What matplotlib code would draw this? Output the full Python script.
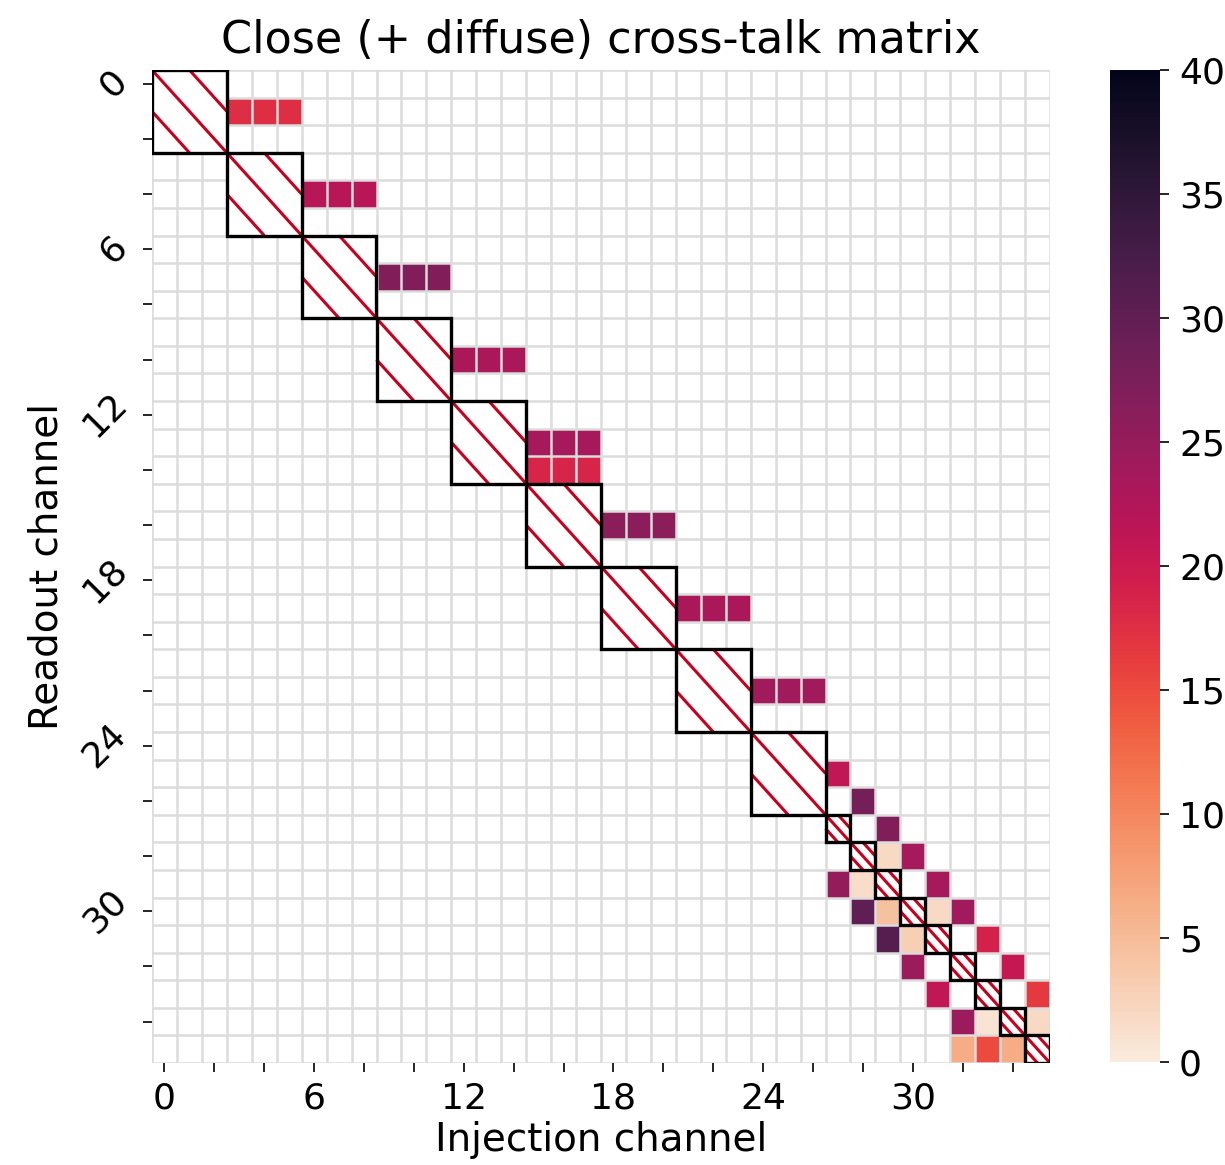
import numpy as np
import matplotlib
matplotlib.use("Agg")
import matplotlib.pyplot as plt
from matplotlib.patches import Rectangle
import seaborn as sns

plt.rcParams['font.family'] = ['DejaVu Sans']

n_channels = 36

# diagonal (self) blocks: start channel and size
block_starts = [0, 3, 6, 9, 12, 15, 18, 21, 24, 27, 28, 29, 30, 31, 32, 33, 34, 35]
block_sizes = [3, 3, 3, 3, 3, 3, 3, 3, 3, 1, 1, 1, 1, 1, 1, 1, 1, 1]

# off-diagonal cross-talk cells (readout row, injection column, value)
xt_rows = [1, 1, 1, 4, 4, 4, 7, 7, 7, 10, 10, 10, 13, 13, 13, 14, 14, 14,
           16, 16, 16, 19, 19, 19, 22, 22, 22,
           25, 26, 27, 28, 28, 29, 29, 29, 30, 30, 30, 30, 31, 31, 31,
           32, 32, 33, 33, 34, 34, 34, 35, 35, 35]
xt_cols = [3, 4, 5, 6, 7, 8, 9, 10, 11, 12, 13, 14, 15, 16, 17, 15, 16, 17,
           18, 19, 20, 21, 22, 23, 24, 25, 26,
           27, 28, 29, 29, 30, 27, 28, 31, 28, 29, 31, 32, 29, 30, 33,
           30, 34, 31, 35, 32, 33, 35, 32, 33, 34]
xt_vals = [17.5, 17.5, 17.5, 22, 22, 22, 27, 27, 27, 23, 23, 23,
           23.5, 23.5, 23.5, 18.5, 18.5, 18.5, 26, 26, 26, 23, 23, 23, 24, 24, 24,
           21, 28, 27, 2, 23.5, 25, 1.5, 23.5, 30, 4.5, 2, 24, 31, 3, 19,
           24.5, 20.5, 21, 16.5, 24.5, 0.8, 2, 6.5, 15, 6.5]

tick_pos = [0, 2, 4, 6, 8, 10, 12, 14, 16, 18, 20, 22, 24, 26, 28, 30, 32, 34]
tick_labels = ['0', '', '', '6', '', '', '12', '', '', '18', '', '', '24', '', '', '30', '', '']
cbar_ticks = [0, 5, 10, 15, 20, 25, 30, 35, 40]

title = "Close (+ diffuse) cross-talk matrix"
xlabel = "Injection channel"
ylabel = "Readout channel"

cmap = sns.color_palette("rocket_r", as_cmap=True)

mat = np.full((n_channels, n_channels), np.nan)
for r, c, v in zip(xt_rows, xt_cols, xt_vals):
    mat[r, c] = v
mat = np.ma.masked_invalid(mat)

W, H = 1225, 1165
fig = plt.figure(figsize=(W / 200, H / 200), dpi=200)
ax = fig.add_axes([152 / W, 1 - 1063 / H, (1050 - 152) / W, (1063 - 70) / H])
cax = fig.add_axes([1110 / W, 1 - 1062 / H, 50 / W, (1062 - 70) / H])

edges = np.arange(n_channels + 1)
mesh = ax.pcolormesh(edges, edges, mat, cmap=cmap, vmin=0, vmax=40, zorder=1)

for i in edges:
    ax.axhline(i, color='#dcdcdc', lw=0.9, zorder=2)
    ax.axvline(i, color='#dcdcdc', lw=0.9, zorder=2)

hatch_color = '#c8001e'
for s, w in zip(block_starts, block_sizes):
    ax.add_patch(Rectangle((s, s), w, w, facecolor='white', edgecolor='none', zorder=3))
    ax.plot([s, s + w], [s, s + w], color=hatch_color, lw=1.1, zorder=4, solid_capstyle='butt')
    ax.plot([s + w / 2, s + w], [s, s + w / 2], color=hatch_color, lw=1.1, zorder=4, solid_capstyle='butt')
    ax.plot([s, s + w / 2], [s + w / 2, s + w], color=hatch_color, lw=1.1, zorder=4, solid_capstyle='butt')
    ax.add_patch(Rectangle((s, s), w, w, fill=False, edgecolor='black', lw=1.2, zorder=5))

ax.set_xlim(0, n_channels)
ax.set_ylim(n_channels, 0)
for sp in ax.spines.values():
    sp.set_visible(False)

centers = [p + 0.5 for p in tick_pos]
ax.set_xticks(centers)
ax.set_xticklabels(tick_labels)
ax.set_yticks(centers)
ax.set_yticklabels(tick_labels, rotation=45, ha='right', va='center')
ax.tick_params(length=3.3, width=0.6, labelsize=13)

ax.set_title(title, fontsize=16, pad=6)
ax.set_xlabel(xlabel, fontsize=14, labelpad=2)
ax.set_ylabel(ylabel, fontsize=14, labelpad=4)

cb = fig.colorbar(mesh, cax=cax, ticks=cbar_ticks)
cb.outline.set_visible(False)
cax.tick_params(labelsize=13, length=3.3, width=0.6)

fig.savefig("out.png", dpi=200)
